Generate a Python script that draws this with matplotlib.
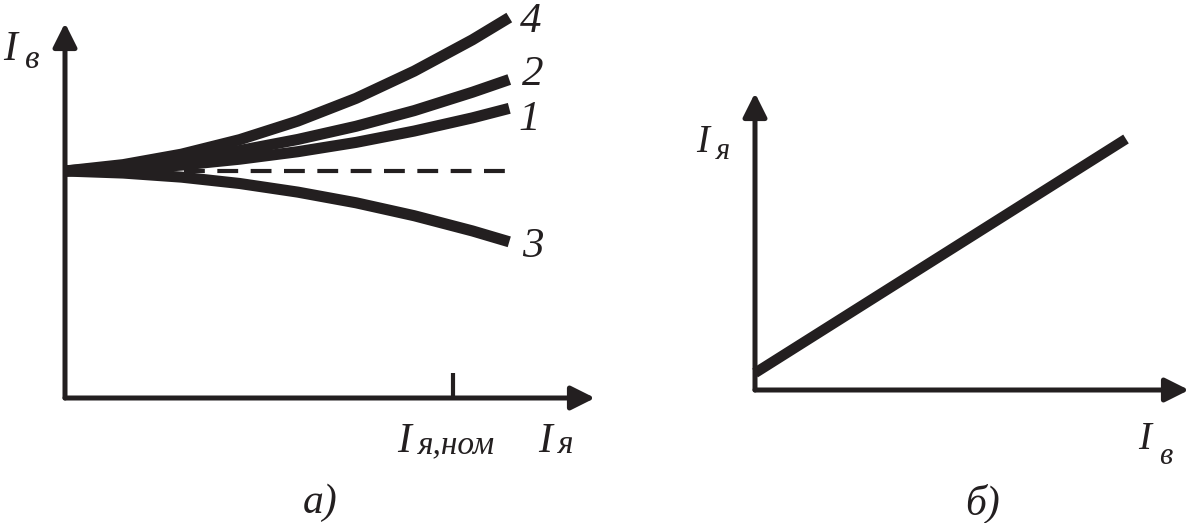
import matplotlib
matplotlib.use("Agg")
import matplotlib.pyplot as plt


# =========================
# DATA
# =========================

# panel a): armature current in units of I_nom, field current in units of its no-load value
ia_rel = [0.0, 0.15, 0.30, 0.45, 0.60, 0.75, 0.90, 1.05, 1.145]
ib_curve1 = [1.0, 1.008, 1.026, 1.052, 1.085, 1.126, 1.176, 1.234, 1.276]
ib_curve2 = [1.0, 1.019, 1.050, 1.090, 1.139, 1.197, 1.266, 1.347, 1.403]
ib_curve3 = [1.0, 0.991, 0.973, 0.945, 0.907, 0.860, 0.803, 0.736, 0.688]
ib_curve4 = [1.0, 1.028, 1.074, 1.138, 1.220, 1.320, 1.440, 1.578, 1.676]
curve_labels = ["1", "2", "3", "4"]
dash_x = [0.307, 1.16]
dash_y = [1.0, 1.0]
ia_nom = 1.0

# panel b): armature current against field current
ib_line = [0.0, 3.71]
ia_line = [0.17, 2.51]

INK = "#231f20"
SERIF = ["Liberation Serif", "DejaVu Serif"]


def arrow_axis(ax, tip):
    ax.annotate(
        "",
        xy=tip,
        xytext=(0, 0),
        arrowprops=dict(
            arrowstyle="-|>,head_length=0.72,head_width=0.36",
            mutation_scale=20,
            lw=3.6,
            color=INK,
            shrinkA=0,
            shrinkB=0,
        ),
        annotation_clip=False,
    )


def put(fig, px, py, s, size):
    # px, py are pixel positions from the top-left corner
    fig.text(
        px / 1190, 1 - py / 523, s,
        fontsize=size, family=SERIF, style="italic",
        color=INK, ha="left", va="baseline",
    )


fig = plt.figure(figsize=(11.9, 5.23), dpi=100)

# =========================
# PANEL a)
# =========================

ax1 = fig.add_axes([0, 0, 600 / 1190, 1])
ax1.set_xlim(-65 / 388, 535 / 388)
ax1.set_ylim(-125 / 227, 398 / 227)
ax1.axis("off")

arrow_axis(ax1, (0, 1.652))
arrow_axis(ax1, (1.366, 0))

ax1.plot([ia_nom, ia_nom], [0, 0.11], color=INK, lw=3, solid_capstyle="butt")
ax1.plot(dash_x, dash_y, color=INK, lw=3, dashes=(5, 3))

for curve in [ib_curve1, ib_curve2, ib_curve3, ib_curve4]:
    ax1.plot(ia_rel, curve, color=INK, lw=8,
             solid_capstyle="butt", solid_joinstyle="round")

put(fig, 520, 32, curve_labels[3], 31)
put(fig, 522, 85, curve_labels[1], 31)
put(fig, 518, 130, curve_labels[0], 31)
put(fig, 522, 257, curve_labels[2], 31)

put(fig, 3, 60, "I", 30)
put(fig, 25, 68, "в", 24)
put(fig, 397, 452, "I", 30)
put(fig, 418, 453, "я,ном", 24)
put(fig, 538, 452, "I", 30)
put(fig, 558, 453, "я", 24)
put(fig, 303, 513, "а)", 30)

# =========================
# PANEL b)
# =========================

ax2 = fig.add_axes([600 / 1190, 0, 590 / 1190, 1])
ax2.set_xlim(-1.55, 4.35)
ax2.set_ylim(-1.33, 3.90)
ax2.axis("off")

arrow_axis(ax2, (0, 2.97))
arrow_axis(ax2, (4.34, 0))

ax2.plot(ib_line, ia_line, color=INK, lw=7.5, solid_capstyle="butt")

put(fig, 696, 152, "I", 28)
put(fig, 716, 159, "я", 22)
put(fig, 1138, 449, "I", 28)
put(fig, 1159, 464, "в", 22)
put(fig, 965, 515, "б)", 30)

fig.savefig("out.png", dpi=100)
